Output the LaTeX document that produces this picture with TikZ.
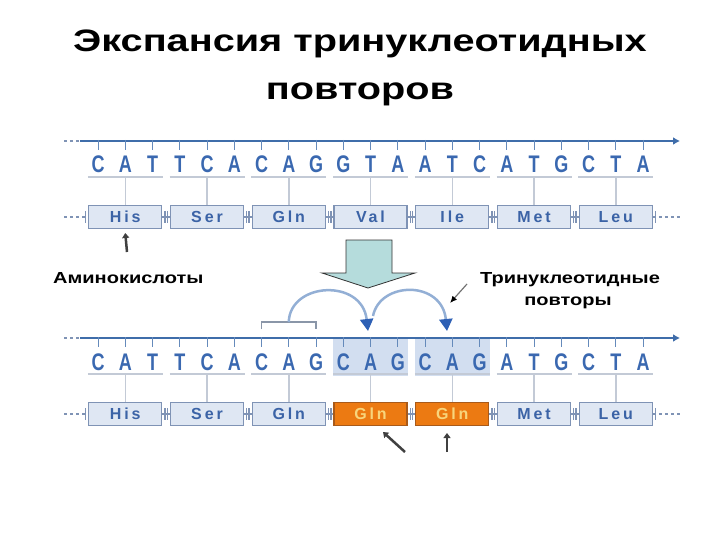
\documentclass[tikz,border=0pt]{standalone}
\usepackage{fontspec}
\setmainfont{Liberation Sans}
\newfontfamily\aafont[LetterSpace=18]{Liberation Sans}
\usetikzlibrary{arrows.meta,positioning}

\definecolor{dnaline}{HTML}{3F6DAA}
\definecolor{nucblue}{HTML}{3A68B0}
\definecolor{codgrey}{HTML}{C3CAD6}
\definecolor{brkgrey}{HTML}{8A96A8}
\definecolor{aafill}{HTML}{DFE7F3}
\definecolor{aaedge}{HTML}{7F93B5}
\definecolor{aatext}{HTML}{3B63A6}
\definecolor{glnfill}{HTML}{EC7A12}
\definecolor{glnedge}{HTML}{A85A1A}
\definecolor{glntext}{HTML}{F8D57C}
\definecolor{hilite}{HTML}{D2DEF0}
\definecolor{bigarrow}{HTML}{B5DCDC}
\definecolor{loopline}{HTML}{93AFD5}
\definecolor{loophead}{HTML}{2E60B5}

% wide text, the slide is stretched sideways
\newcommand\wide[1]{\scalebox{1.25}[1]{#1}}
\newcommand\slim[1]{\scalebox{0.75}[1]{#1}}

\tikzset{
  ttl/.style={anchor=base, inner sep=0pt, font=\fontsize{31}{31}\selectfont\bfseries},
  lbl/.style={anchor=base, inner sep=0pt, font=\fontsize{16}{16}\selectfont\bfseries},
  nuc/.style={anchor=base, inner sep=0pt, text=nucblue, font=\fontsize{24}{24}\selectfont\bfseries},
  backbone/.style={draw=dnaline, line width=2pt, -{Latex[length=7pt,width=8pt]}},
  tick/.style={draw=dnaline!80, line width=1pt},
  codon/.style={draw=codgrey, line width=1.5pt},
  dots/.style={draw=aaedge, line width=1.2pt, dash pattern=on 3pt off 3pt},
  aabox/.style={draw=aaedge, fill=aafill, line width=1.4pt, minimum width=73pt, minimum height=23pt, inner sep=0pt, text=aatext, font=\aafont\fontsize{16}{16}\selectfont\bfseries},
  glnbox/.style={aabox, draw=glnedge, fill=glnfill, text=glntext},
  link/.style={draw=aaedge, line width=1.4pt},
  ptr/.style={draw=black!75, line width=2.5pt, -{Triangle[width=7pt,length=5pt]}},
  loop/.style={draw=loopline, line width=2.5pt, -{Triangle[width=13pt,length=12pt,color=loophead]}},
}

\begin{document}
\begin{tikzpicture}[x=1pt,y=-1pt]
\useasboundingbox (0,0) rectangle (720,540);

% to write the title
\node [ttl] (title1) at (360,52) {\scalebox{1.28}[1]{Экспансия тринуклеотидных}};
\node [ttl] (title2) at (360,100) {\scalebox{1.28}[1]{повторов}};

%first strand:
\draw [dots] (64,141) -- (80,141);
\coordinate (bbA) at (80,141);
\coordinate (bbB) at (680,141);
\draw [backbone] (bbA) -- (bbB);
\foreach \l [count=\i from 0] in {C,A,T,T,C,A,C,A,G,G,T,A,A,T,C,A,T,G,C,T,A} {
  \draw [tick] ({98+27.25*\i},140) -- ++(0,10);
  \node [nuc] (n\i) at ({98+27.25*\i},173) {\slim{\l}};
}
\foreach \a [count=\k from 0] in {His,Ser,Gln,Val,Ile,Met,Leu} {
  \draw [codon] ({125.25+81.75*\k-37.5},177) -- ++(75,0);
  \node [aabox] (aa\k) at ({125.25+81.75*\k},217) {\a};
  \draw [codon] (aa\k.north) -- ++(0,-28);
}
\foreach \k [evaluate=\k as \j using int(\k+1)] in {0,...,5} {
  \draw [link] (aa\k.east) -- (aa\j.west);
  \draw [link] ([xshift=2.5pt,yshift=6pt]aa\k.east) -- ([xshift=2.5pt,yshift=-6pt]aa\k.east);
  \draw [link] ([xshift=-2.5pt,yshift=6pt]aa\j.west) -- ([xshift=-2.5pt,yshift=-6pt]aa\j.west);
}
\draw [dots] (64,217) -- (aa0.west);
\draw [link] ([xshift=-2.5pt,yshift=6pt]aa0.west) -- ([xshift=-2.5pt,yshift=-6pt]aa0.west);
\draw [dots] (aa6.east) -- (682,217);
\draw [link] ([xshift=2.5pt,yshift=6pt]aa6.east) -- ([xshift=2.5pt,yshift=-6pt]aa6.east);

% to write labels
\node [lbl, anchor=base west] (lblAmino) at (53,283) {\wide{Аминокислоты}};
\node [lbl] (lblRep) at (570,283) {\wide{Тринуклеотидные}};
\node [lbl] (lblRep2) at (568,305) {\wide{повторы}};
\coordinate (up1) at (127,252);
\draw [ptr] (up1) -- (aa0.south |- 0,233);

% to draw the big arrow
\draw [draw=black!80, fill=bigarrow, line width=0.8pt]
  (346,240) -- (392,240) -- (392,273) -- (415,273) -- (368,288)
  -- (322,273) -- (346,273) -- cycle;

%second strand:
\fill [hilite] (333,339) rectangle (408,376);
\fill [hilite] (415,339) rectangle (490,376);
\draw [dots] (64,338) -- (80,338);
\coordinate (bbC) at (80,338);
\coordinate (bbD) at (680,338);
\draw [backbone] (bbC) -- (bbD);
\foreach \l [count=\i from 0] in {C,A,T,T,C,A,C,A,G,C,A,G,C,A,G,A,T,G,C,T,A} {
  \draw [tick] ({98+27.25*\i},337) -- ++(0,10);
  \node [nuc] (m\i) at ({98+27.25*\i},370) {\slim{\l}};
}
\foreach \a/\s [count=\k from 0] in {His/aabox,Ser/aabox,Gln/aabox,Gln/glnbox,Gln/glnbox,Met/aabox,Leu/aabox} {
  \draw [codon] ({125.25+81.75*\k-37.5},374) -- ++(75,0);
  \node [\s] (bb\k) at ({125.25+81.75*\k},414) {\a};
  \draw [codon] (bb\k.north) -- ++(0,-28);
}
\foreach \k [evaluate=\k as \j using int(\k+1)] in {0,...,5} {
  \draw [link] (bb\k.east) -- (bb\j.west);
  \draw [link] ([xshift=2.5pt,yshift=6pt]bb\k.east) -- ([xshift=2.5pt,yshift=-6pt]bb\k.east);
  \draw [link] ([xshift=-2.5pt,yshift=6pt]bb\j.west) -- ([xshift=-2.5pt,yshift=-6pt]bb\j.west);
}
\draw [dots] (64,414) -- (bb0.west);
\draw [link] ([xshift=-2.5pt,yshift=6pt]bb0.west) -- ([xshift=-2.5pt,yshift=-6pt]bb0.west);
\draw [dots] (bb6.east) -- (682,414);
\draw [link] ([xshift=2.5pt,yshift=6pt]bb6.east) -- ([xshift=2.5pt,yshift=-6pt]bb6.east);

% to draw the repeat loops
\draw [draw=brkgrey, line width=1.5pt] (m6.north |- 0,329) -- (m6.north |- 0,322) -- (m8.north |- 0,322) -- (m8.north |- 0,329);
\coordinate (brk) at (288.75,322);
\coordinate (hit1) at (368,331);
\coordinate (rise2) at (373,316);
\coordinate (hit2) at (447,331);
\draw [loop] (brk) .. controls (290,282) and (362,278) .. (hit1);
\draw [loop] (rise2) .. controls (380,281) and (442,280) .. (hit2);
\coordinate (rp) at (467,284);
\draw [draw=black!55, line width=1.2pt, -{Latex[length=7pt,width=6pt,color=black]}] (rp) -- (450,303);

% to draw arrows under the new codons
\coordinate (dg) at (405,452);
\coordinate (up2) at (447,452);
\draw [ptr] (dg) -- (383,432);
\draw [ptr] (up2) -- (447,433);
\end{tikzpicture}
\end{document}
